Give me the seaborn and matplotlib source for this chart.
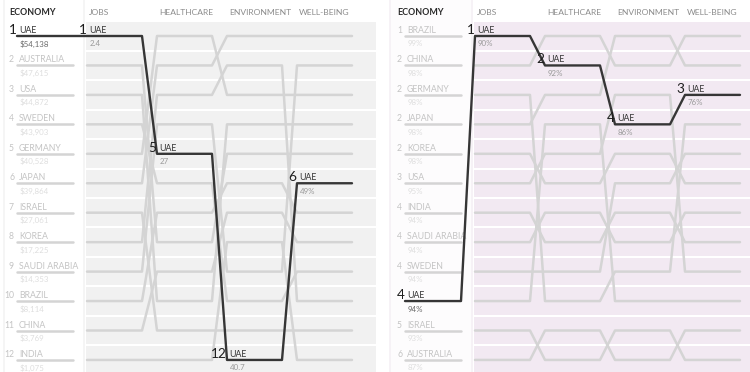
import numpy as np
import pandas as pd
import seaborn as sns
import matplotlib
matplotlib.use("Agg")
import matplotlib.pyplot as plt
from matplotlib.patches import Rectangle

sns.set_theme(style="white")
plt.rcParams['font.family'] = ['Lato', 'DejaVu Sans']

# ---------------- data ----------------
headers = ["ECONOMY", "JOBS", "HEALTHCARE", "ENVIRONMENT", "WELL-BEING"]

# Left panel (GDP per capita)
left_countries = ["UAE", "AUSTRALIA", "USA", "SWEDEN", "GERMANY", "JAPAN", "ISRAEL",
                  "KOREA", "SAUDI ARABIA", "BRAZIL", "CHINA", "INDIA"]
left_econ_label = [1, 2, 3, 4, 5, 6, 7, 8, 9, 10, 11, 12]
left_econ_value = ["$54,138", "$47,615", "$44,872", "$43,903", "$40,528", "$39,864",
                   "$27,061", "$17,225", "$14,353", "$8,114", "$3,769", "$1,075"]
left_jobs = [1, 4, 9, 8, 3, 2, 6, 5, 7, 11, 10, 12]
left_health = [5, 6, 4, 3, 10, 8, 2, 1, 11, 9, 7, 12]
left_env = [12, 10, 9, 2, 4, 5, 1, 3, 11, 7, 6, 8]
left_well = [6, 9, 2, 10, 4, 5, 1, 3, 11, 8, 7, 12]
left_uae_values = ["2.4", "27", "40.7", "49%"]

# Right panel (percent scores)
right_countries = ["BRAZIL", "CHINA", "GERMANY", "JAPAN", "KOREA", "USA", "INDIA",
                   "SAUDI ARABIA", "SWEDEN", "UAE", "ISRAEL", "AUSTRALIA"]
right_econ_label = [1, 2, 2, 2, 2, 3, 4, 4, 4, 4, 5, 6]
right_econ_value = ["99%", "98%", "98%", "98%", "98%", "95%", "94%", "94%", "94%",
                    "94%", "93%", "87%"]
right_jobs = [5, 2, 7, 3, 4, 9, 12, 10, 8, 1, 6, 11]
right_health = [6, 1, 8, 10, 3, 9, 11, 4, 7, 2, 5, 12]
right_env = [5, 2, 7, 9, 1, 6, 12, 10, 8, 4, 3, 11]
right_well = [6, 1, 8, 4, 2, 5, 11, 10, 7, 3, 9, 12]
right_uae_values = ["90%", "92%", "86%", "76%"]

highlight = "UAE"

# ---------------- layout / style ----------------
W, H = 750, 372
ROW0, ROWH = 36.0, 29.45
COLW, SEG = 70.0, 55.0
GRAY_LINE = "#d4d4d4"
DARK = "#363636"


def ypix(slot):
    return ROW0 + (slot - 1) * ROWH


fig = plt.figure(figsize=(7.5, 3.72), dpi=100)
ax = fig.add_axes([0, 0, 1, 1])
ax.set_xlim(0, W)
ax.set_ylim(H, 0)
ax.axis("off")


def panel(x0, card, bg_x, bg_color, card_face, card_edge, countries, econ_label,
          econ_value, jobs, health, env, well, uae_values, econ_head_x):
    # backgrounds
    ax.add_patch(Rectangle((card[0], -2), card[1] - card[0], H + 4, facecolor=card_face,
                           edgecolor=card_edge, lw=1.2, zorder=0))
    ax.add_patch(Rectangle((bg_x[0], 22), bg_x[1] - bg_x[0], H - 22,
                           facecolor=bg_color, edgecolor="none", zorder=0))
    for k in range(1, 12):
        yy = ypix(k) + ROWH / 2
        ax.plot([bg_x[0], bg_x[1]], [yy, yy], color="white", lw=1.5, zorder=0.5)

    # headers
    ax.text(econ_head_x, 15, headers[0], fontsize=6.4, fontweight="bold",
            color="#2b2b2b", va="baseline", ha="left")
    for c in range(1, 5):
        ax.text(x0 + c * COLW + 2, 15, headers[c], fontsize=6.1, color="#8c8c8c",
                va="baseline", ha="left")

    # gray paths (columns JOBS..WELL-BEING)
    recs = []
    econ_recs = []
    for i, name in enumerate(countries):
        ranks = [jobs[i], health[i], env[i], well[i]]
        if name == highlight:
            continue
        for c, r in enumerate(ranks, start=1):
            recs.append((name, x0 + c * COLW, ypix(r)))
            recs.append((name, x0 + c * COLW + SEG, ypix(r)))
        econ_recs.append((name, x0, ypix(i + 1)))
        econ_recs.append((name, x0 + SEG + 1, ypix(i + 1)))
    df = pd.DataFrame(recs, columns=["country", "x", "y"])
    sns.lineplot(data=df, x="x", y="y", units="country", estimator=None, sort=False,
                 color=GRAY_LINE, lw=1.8, ax=ax, legend=False, zorder=2)
    de = pd.DataFrame(econ_recs, columns=["country", "x", "y"])
    sns.lineplot(data=de, x="x", y="y", units="country", estimator=None, sort=False,
                 color=GRAY_LINE, lw=1.8, ax=ax, legend=False, zorder=2)

    # economy column labels
    for i, name in enumerate(countries):
        y = ypix(i + 1)
        if name == highlight:
            continue
        ax.text(x0 - 3, y - 3, str(econ_label[i]), fontsize=6.2, color="#c4c4c4",
                ha="right", va="baseline")
        ax.text(x0 + 2, y - 3, name, fontsize=6.3, color="#c4c4c4",
                ha="left", va="baseline")
        ax.text(x0 + 3, y + 10.5, econ_value[i], fontsize=5.7, color="#dedede",
                ha="left", va="baseline")

    # highlighted path
    i = countries.index(highlight)
    ranks = [jobs[i], health[i], env[i], well[i]]
    hrec = [(x0, ypix(i + 1)), (x0 + SEG + 1, ypix(i + 1))]
    for c, r in enumerate(ranks, start=1):
        hrec.append((x0 + c * COLW, ypix(r)))
        hrec.append((x0 + c * COLW + SEG, ypix(r)))
    dh = pd.DataFrame(hrec, columns=["x", "y"])
    sns.lineplot(data=dh, x="x", y="y", estimator=None, sort=False, color=DARK,
                 lw=1.7, ax=ax, legend=False, zorder=5)

    labels = [(x0, i + 1, str(econ_label[i]), econ_value[i])]
    for c, r in enumerate(ranks, start=1):
        labels.append((x0 + c * COLW, r, str(r), uae_values[c - 1]))
    for k, (xs, slot, num, val) in enumerate(labels):
        y = ypix(slot)
        ax.text(xs - 0.5, y - 2.2, num, fontsize=9.8, color="#1e1e1e", ha="right",
                va="baseline", zorder=6)
        ax.text(xs + 2.5, y - 3, highlight, fontsize=6.3, color="#333333",
                ha="left", va="baseline", zorder=6)
        ax.text(xs + 3, y + 10.5, val, fontsize=5.7,
                color="#6a6a6a" if k == 0 else "#9a9a9a",
                ha="left", va="baseline", zorder=6)


panel(17, (4, 84), (86, 376), "#f1f1f1", "#ffffff", "#f3f3f3",
      left_countries, left_econ_label, left_econ_value,
      left_jobs, left_health, left_env, left_well, left_uae_values, 9)

panel(405, (390, 472), (474, 750), "#f2e9f2", "#fdfcfd", "#f5f0f5",
      right_countries, right_econ_label, right_econ_value,
      right_jobs, right_health, right_env, right_well, right_uae_values, 397)

fig.savefig("out.png", dpi=100)
